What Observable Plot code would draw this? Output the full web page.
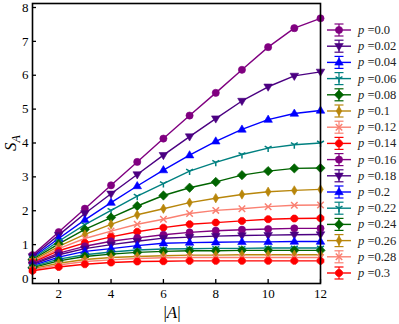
<!DOCTYPE html>
<html>
<head>
<meta charset="utf-8">
<script src="https://cdn.jsdelivr.net/npm/d3@7"></script>
<script src="https://cdn.jsdelivr.net/npm/@observablehq/plot@0.6"></script>
<style>
  html, body { margin: 0; padding: 0; background: #fff; }
  #wrap { position: relative; width: 399px; height: 324px; overflow: hidden; }
  #wrap svg { position: absolute; left: 0; top: 0; }
  #wrap svg text { font-family: 'Liberation Serif', 'DejaVu Serif', serif !important; }
</style>
</head>
<body>
<div id="wrap"></div>
<script>
// ---- data ----
const sizes = [1, 2, 3, 4, 5, 6, 7, 8, 9, 10, 11, 12];
const pLabels = ["0.0", "0.02", "0.04", "0.06", "0.08", "0.1", "0.12", "0.14", "0.16", "0.18", "0.2", "0.22", "0.24", "0.26", "0.28", "0.3"];
const s_p000 = [0.69, 1.37, 2.06, 2.75, 3.44, 4.13, 4.81, 5.48, 6.16, 6.83, 7.39, 7.68];
const s_p002 = [0.65, 1.28, 1.92, 2.50, 3.07, 3.64, 4.19, 4.72, 5.24, 5.66, 5.98, 6.10];
const s_p004 = [0.62, 1.18, 1.73, 2.24, 2.73, 3.20, 3.64, 4.05, 4.40, 4.69, 4.87, 4.96];
const s_p006 = [0.59, 1.10, 1.59, 2.01, 2.43, 2.80, 3.17, 3.43, 3.66, 3.85, 3.95, 4.00];
const s_p008 = [0.56, 1.02, 1.45, 1.80, 2.14, 2.45, 2.68, 2.85, 3.05, 3.17, 3.25, 3.26];
const s_p010 = [0.53, 0.95, 1.30, 1.60, 1.88, 2.06, 2.24, 2.37, 2.48, 2.56, 2.60, 2.63];
const s_p012 = [0.50, 0.88, 1.18, 1.40, 1.60, 1.75, 1.92, 2.01, 2.06, 2.12, 2.16, 2.17];
const s_p014 = [0.47, 0.82, 1.05, 1.23, 1.38, 1.50, 1.60, 1.65, 1.70, 1.75, 1.77, 1.78];
const s_p016 = [0.44, 0.75, 0.95, 1.10, 1.20, 1.29, 1.36, 1.41, 1.44, 1.46, 1.48, 1.48];
const s_p018 = [0.41, 0.70, 0.88, 1.00, 1.10, 1.19, 1.22, 1.25, 1.27, 1.28, 1.29, 1.30];
const s_p020 = [0.38, 0.63, 0.80, 0.88, 0.97, 1.04, 1.06, 1.07, 1.08, 1.08, 1.09, 1.09];
const s_p022 = [0.35, 0.57, 0.70, 0.78, 0.84, 0.87, 0.88, 0.89, 0.89, 0.90, 0.90, 0.90];
const s_p024 = [0.32, 0.52, 0.65, 0.72, 0.77, 0.80, 0.82, 0.82, 0.83, 0.83, 0.83, 0.83];
const s_p026 = [0.29, 0.45, 0.56, 0.62, 0.65, 0.67, 0.69, 0.69, 0.70, 0.70, 0.70, 0.70];
const s_p028 = [0.26, 0.40, 0.50, 0.55, 0.59, 0.61, 0.62, 0.62, 0.62, 0.62, 0.62, 0.62];
const s_p030 = [0.23, 0.34, 0.42, 0.47, 0.50, 0.51, 0.52, 0.52, 0.52, 0.52, 0.52, 0.52];
const seriesValues = [s_p000, s_p002, s_p004, s_p006, s_p008, s_p010, s_p012, s_p014,
                      s_p016, s_p018, s_p020, s_p022, s_p024, s_p026, s_p028, s_p030];
const colors = ["#800080", "#4B0082", "#0000FF", "#008080", "#006400", "#B8860B", "#FA8072", "#FF0000"];
const markerNames = ["circle", "triDown", "triUp", "tri", "diamond", "thinDiamond", "x", "octagon"];
const xTicks = [2, 4, 6, 8, 10, 12];
const yTicks = [0, 1, 2, 3, 4, 5, 6, 7, 8];

// ---- custom symbols ----
function poly(ctx, pts) { ctx.moveTo(pts[0][0], pts[0][1]); for (let i = 1; i < pts.length; i++) ctx.lineTo(pts[i][0], pts[i][1]); ctx.closePath(); }
const R = s => Math.sqrt(s / Math.PI);
const symbols = {
  circle: { draw(ctx, s) { const r = R(s); ctx.moveTo(r, 0); ctx.arc(0, 0, r, 0, 2 * Math.PI); } },
  triDown: { draw(ctx, s) { const r = R(s) * 1.25; poly(ctx, [[0, r], [-r * 0.95, -r * 0.6], [r * 0.95, -r * 0.6]]); } },
  triUp: { draw(ctx, s) { const r = R(s) * 1.25; poly(ctx, [[0, -r], [-r * 0.95, r * 0.6], [r * 0.95, r * 0.6]]); } },
  tri: { draw(ctx, s) { const r = R(s) * 1.1; ctx.moveTo(0, 0); ctx.lineTo(0, r); ctx.moveTo(0, 0); ctx.lineTo(-0.87 * r, -0.5 * r); ctx.moveTo(0, 0); ctx.lineTo(0.87 * r, -0.5 * r); } },
  diamond: { draw(ctx, s) { const r = R(s) * 1.3; poly(ctx, [[0, -r], [r, 0], [0, r], [-r, 0]]); } },
  thinDiamond: { draw(ctx, s) { const r = R(s) * 1.3; poly(ctx, [[0, -r], [r * 0.6, 0], [0, r], [-r * 0.6, 0]]); } },
  x: { draw(ctx, s) { const r = R(s) * 0.9; ctx.moveTo(-r, -r); ctx.lineTo(r, r); ctx.moveTo(-r, r); ctx.lineTo(r, -r); } },
  octagon: { draw(ctx, s) { const r = R(s) * 1.05; const pts = []; for (let i = 0; i < 8; i++) { const a = Math.PI / 8 + i * Math.PI / 4; pts.push([r * Math.cos(a), r * Math.sin(a)]); } poly(ctx, pts); } }
};
const strokedSymbols = new Set(["tri", "x"]);

// ---- table ----
const rows = [];
seriesValues.forEach((vals, i) => vals.forEach((v, j) => rows.push({ size: sizes[j], S: v, series: i })));

const W = 399, H = 324;
const mL = 32, mR = 79, mT = 3, mB = 41;
const innerW = W - mL - mR, innerH = H - mT - mB;
const fam = "'Liberation Serif', 'DejaVu Serif', serif";

const marks = [];
seriesValues.forEach((vals, i) => {
  const data = rows.filter(d => d.series === i);
  const col = colors[i % 8];
  marks.push(Plot.line(data, { x: "size", y: "S", stroke: col, strokeWidth: 1.4 }));
});
seriesValues.forEach((vals, i) => {
  const data = rows.filter(d => d.series === i);
  const col = colors[i % 8];
  const mname = markerNames[i % 8];
  const stroked = strokedSymbols.has(mname);
  marks.push(Plot.dot(data, {
    x: "size", y: "S", r: 3.6, symbol: symbols[mname],
    fill: stroked ? "none" : col, stroke: col, strokeWidth: stroked ? 1.5 : 0.6
  }));
});

const chart = Plot.plot({
  width: W, height: H,
  marginLeft: mL, marginRight: mR, marginTop: mT, marginBottom: mB,
  style: { fontFamily: fam, fontSize: "13px", color: "#000", background: "white" },
  x: { domain: [1, 12] },
  y: { domain: [-0.148, 8.118] },
  marks: [
    ...marks,
    Plot.tickX(xTicks, { x: d => d, stroke: "black", strokeWidth: 1.3, insetTop: innerH - 4 }),
    Plot.tickY(yTicks, { y: d => d, stroke: "black", strokeWidth: 1.3, insetRight: innerW - 4 }),
    Plot.axisX({ ticks: xTicks, tickSize: 0, tickPadding: 5, label: null, fontSize: 13, fontFamily: fam }),
    Plot.axisY({ ticks: yTicks, tickSize: 0, tickPadding: 4, label: null, fontSize: 13, fontFamily: fam }),
    Plot.frame({ stroke: "black", strokeWidth: 1.6 })
  ]
});
document.getElementById("wrap").appendChild(chart);

// ---- axis labels ----
const svg = d3.select(chart);
const xl = svg.append("text").attr("x", mL + innerW / 2 - 4).attr("y", 318)
  .attr("text-anchor", "middle").attr("font-family", fam).attr("font-size", 17).attr("fill", "black");
xl.append("tspan").text("|");
xl.append("tspan").attr("font-style", "italic").text("A");
xl.append("tspan").text("|");
const yl = svg.append("text").attr("transform", "translate(16,143) rotate(-90)")
  .attr("text-anchor", "middle").attr("font-family", fam).attr("font-size", 17).attr("fill", "black");
yl.append("tspan").attr("font-style", "italic").text("S");
yl.append("tspan").attr("font-style", "italic").attr("font-size", 12).attr("dy", 4).text("A");

// ---- legend ----
const leg = d3.select("#wrap").append("svg").attr("width", W).attr("height", H).style("pointer-events", "none");
pLabels.forEach((lab, i) => {
  const y = 30 + 16.2 * i;
  const col = colors[i % 8];
  const mname = markerNames[i % 8];
  const stroked = strokedSymbols.has(mname);
  const g = leg.append("g");
  g.append("line").attr("x1", 327).attr("x2", 351).attr("y1", y).attr("y2", y).attr("stroke", col).attr("stroke-width", 1.4);
  g.append("line").attr("x1", 339).attr("x2", 339).attr("y1", y - 6).attr("y2", y + 6).attr("stroke", col).attr("stroke-width", 1.2);
  g.append("line").attr("x1", 334.5).attr("x2", 343.5).attr("y1", y - 6).attr("y2", y - 6).attr("stroke", col).attr("stroke-width", 1.2);
  g.append("line").attr("x1", 334.5).attr("x2", 343.5).attr("y1", y + 6).attr("y2", y + 6).attr("stroke", col).attr("stroke-width", 1.2);
  g.append("path").attr("transform", `translate(339,${y})`)
    .attr("d", d3.symbol().type(symbols[mname]).size(Math.PI * 3.6 * 3.6)())
    .attr("fill", stroked ? "none" : col).attr("stroke", col).attr("stroke-width", stroked ? 1.5 : 0.6);
  const t = g.append("text").attr("x", 358).attr("y", y + 4).attr("font-family", fam).attr("font-size", 12.5).attr("fill", "#222");
  t.append("tspan").attr("font-style", "italic").text("p");
  t.append("tspan").text(" =" + lab);
});
</script>
</body>
</html>
